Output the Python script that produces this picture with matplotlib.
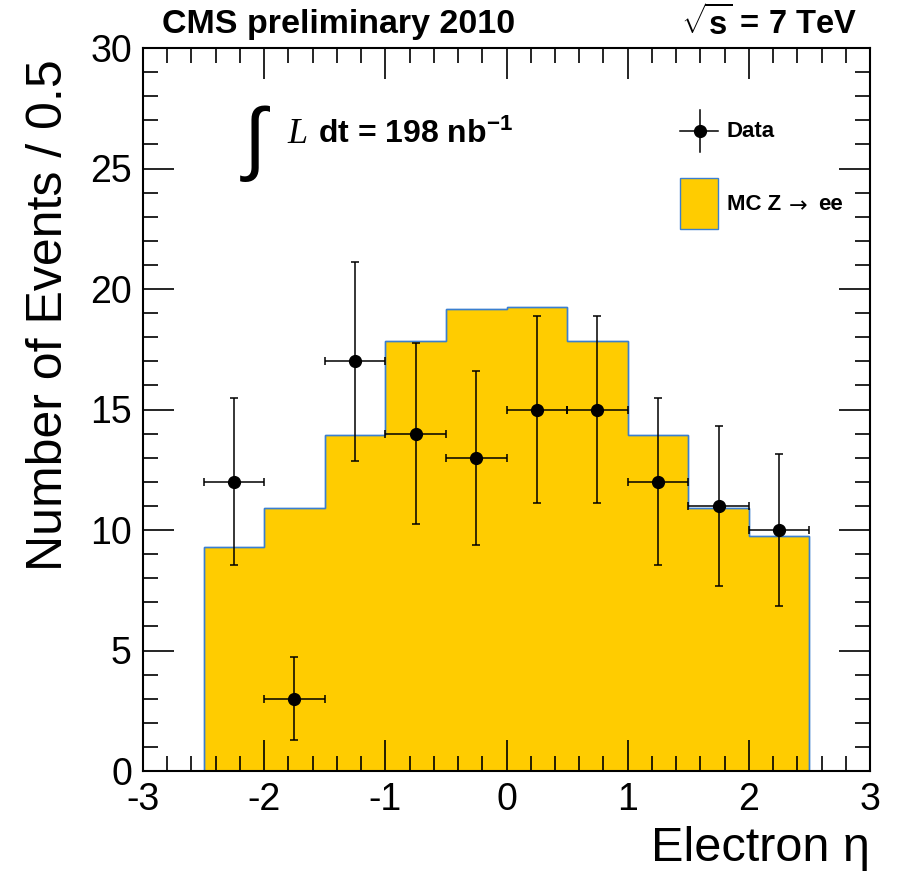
import matplotlib
matplotlib.use("Agg")
import matplotlib.pyplot as plt
from matplotlib.patches import Rectangle
from matplotlib.ticker import MultipleLocator
import numpy as np

# Data
bin_edges = [-2.5, -2.0, -1.5, -1.0, -0.5, 0.0, 0.5, 1.0, 1.5, 2.0, 2.5]
mc_values = [9.3, 10.9, 13.95, 17.85, 19.15, 19.25, 17.85, 13.95, 10.9, 9.75]
data_x = [-2.25, -1.75, -1.25, -0.75, -0.25, 0.25, 0.75, 1.25, 1.75, 2.25]
data_y = [12, 3, 17, 14, 13, 15, 15, 12, 11, 10]
data_yerr = [3.46, 1.73, 4.12, 3.74, 3.61, 3.87, 3.87, 3.46, 3.32, 3.16]
data_xerr = [0.25] * 10

plt.rcParams['font.family'] = ['Liberation Sans', 'DejaVu Sans']
plt.rcParams['axes.unicode_minus'] = False
plt.rcParams['mathtext.fontset'] = 'custom'
plt.rcParams['mathtext.rm'] = 'Liberation Sans'
plt.rcParams['mathtext.it'] = 'Liberation Sans:italic'
plt.rcParams['mathtext.bf'] = 'Liberation Sans:bold'

FILL = '#FFCC00'
EDGE = '#3A7FD0'

fig = plt.figure(figsize=(8.99, 8.81), dpi=100)
ax = fig.add_axes([143/899, 1 - 771/881, (870-143)/899, (771-48)/881])

ax.stairs(mc_values, bin_edges, fill=True, facecolor=FILL, edgecolor=EDGE, linewidth=1.0)
ax.stairs(mc_values, bin_edges, fill=False, edgecolor=EDGE, linewidth=1.0, baseline=0)

eb = ax.errorbar(data_x, data_y, xerr=data_xerr, yerr=data_yerr, fmt='o', color='black',
                 ms=8.5, elinewidth=1.1, capsize=3, capthick=1.1, zorder=5)

ax.set_xlim(-3, 3)
ax.set_ylim(0, 30)
ax.xaxis.set_major_locator(MultipleLocator(1))
ax.xaxis.set_minor_locator(MultipleLocator(0.2))
ax.yaxis.set_major_locator(MultipleLocator(5))
ax.yaxis.set_minor_locator(MultipleLocator(1))
ax.tick_params(which='both', direction='in', top=True, right=True, width=1.2)
ax.tick_params(which='major', length=22, labelsize=27, pad=8)
ax.tick_params(which='minor', length=11)
for s in ax.spines.values():
    s.set_linewidth(1.5)

ax.set_ylabel('Number of Events / 0.5', fontsize=36, loc='top')
ax.yaxis.set_label_coords(-0.098, 0.984)
ax.set_xlabel('Electron \u03b7', fontsize=35, loc='right', labelpad=6)

fig.text(162/899, 1 - 24/881, 'CMS preliminary 2010', fontsize=24.5, fontweight='bold',
         va='center', ha='left')
fig.text(857/899, 1 - 24/881, r'$\sqrt{\mathbf{s}}$ = 7 TeV', fontsize=23.5, fontweight='bold',
         va='center', ha='right')

# luminosity label
ax.text(0.155, 0.868, r'$\int$', transform=ax.transAxes, fontsize=58, va='center', ha='center')
ax.text(0.212, 0.880, 'L', transform=ax.transAxes, fontsize=26, va='center', ha='center',
        family='Liberation Serif', style='italic')
ax.text(0.241, 0.880, r'dt = 198 nb$^{\mathbf{-1}}$', transform=ax.transAxes, fontsize=23,
        fontweight='bold', va='center', ha='left')

# legend (drawn in axes coordinates)
tA = ax.transAxes
ax.plot([0.739, 0.791], [0.885, 0.885], color='black', lw=1.1, transform=tA, clip_on=False)
ax.plot([0.766, 0.766], [0.856, 0.914], color='black', lw=1.1, transform=tA, clip_on=False)
ax.plot([0.766], [0.885], 'o', color='black', ms=8.5, transform=tA, clip_on=False)
ax.text(0.803, 0.885, 'Data', transform=tA, fontsize=16, fontweight='bold', va='center', ha='left')
ax.add_patch(Rectangle((0.739, 0.750), 0.052, 0.070, facecolor=FILL, edgecolor=EDGE,
                       linewidth=1.0, transform=tA, clip_on=False))
ax.text(0.803, 0.783, 'MC Z', transform=tA, fontsize=16, fontweight='bold',
        va='center', ha='left')
ax.text(0.882, 0.783, r'$\rightarrow$', transform=tA, fontsize=16,
        va='center', ha='left', math_fontfamily='dejavusans')
ax.text(0.929, 0.783, 'ee', transform=tA, fontsize=16, fontweight='bold',
        va='center', ha='left')

fig.savefig('out.png', dpi=100)
